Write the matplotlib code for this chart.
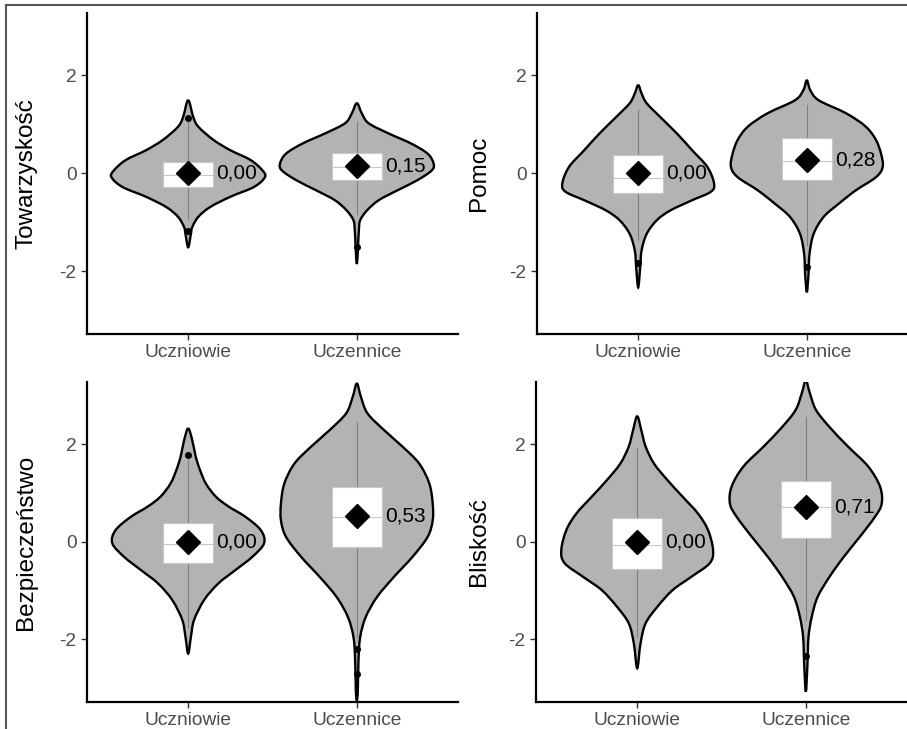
import numpy as np
import matplotlib
matplotlib.use("Agg")
import matplotlib.pyplot as plt
from matplotlib.path import Path
from matplotlib.patches import PathPatch

plt.rcParams['font.family'] = ['Liberation Sans', 'DejaVu Sans']
plt.rcParams['axes.unicode_minus'] = False

groups = ["Uczniowie", "Uczennice"]
scales = ["Towarzyskość", "Pomoc", "Bezpieczeństwo", "Bliskość"]

# mean values shown next to the diamonds
means = {
    "Towarzyskość": [0.00, 0.15],
    "Pomoc": [0.00, 0.28],
    "Bezpieczeństwo": [0.00, 0.53],
    "Bliskość": [0.00, 0.71],
}

# boxplot stats: lower whisker, q1, median, q3, upper whisker
boxes = {
    "Towarzyskość": [[-0.93, -0.28, -0.03, 0.22, 1.05], [-0.83, -0.14, 0.13, 0.42, 1.05]],
    "Pomoc": [[-1.37, -0.40, -0.09, 0.38, 1.29], [-1.47, -0.14, 0.25, 0.71, 1.39]],
    "Bezpieczeństwo": [[-1.75, -0.44, -0.05, 0.375, 1.67], [-1.95, -0.10, 0.51, 1.13, 2.46]],
    "Bliskość": [[-1.95, -0.56, -0.07, 0.48, 1.91], [-1.60, 0.08, 0.72, 1.24, 2.56]],
}

outliers = {
    "Towarzyskość": [[1.12, -1.17], [-1.51]],
    "Pomoc": [[-1.84], [-1.92]],
    "Bezpieczeństwo": [[1.77], [-2.20, -2.70]],
    "Bliskość": [[], [-2.33]],
}

# violin outline: y levels and half widths
viol_y = {
    "Towarzyskość": [
        [1.49, 1.15, 0.95, 0.68, 0.47, 0.27, 0.06, -0.08, -0.28, -0.48, -0.69, -0.89, -1.10, -1.24, -1.51],
        [1.43, 1.22, 1.02, 0.81, 0.61, 0.40, 0.20, 0.06, -0.14, -0.35, -0.55, -0.76, -0.96, -1.17, -1.85],
    ],
    "Pomoc": [
        [1.80, 1.63, 1.43, 1.15, 0.81, 0.47, 0.13, -0.21, -0.38, -0.55, -0.76, -0.96, -1.24, -1.58, -1.92, -2.33],
        [1.90, 1.70, 1.49, 1.22, 0.95, 0.68, 0.40, 0.13, -0.08, -0.35, -0.62, -0.89, -1.24, -1.65, -2.06, -2.43],
    ],
    "Bezpieczeństwo": [
        [2.32, 2.08, 1.74, 1.47, 1.19, 0.92, 0.72, 0.51, 0.24, -0.03, -0.31, -0.58, -0.85, -1.19, -1.60, -1.95, -2.29],
        [3.24, 2.97, 2.63, 2.29, 1.95, 1.60, 1.19, 0.78, 0.44, 0.10, -0.31, -0.72, -1.13, -1.54, -1.95, -2.42, -3.04, -3.25],
    ],
    "Bliskość": [
        [2.57, 2.29, 1.95, 1.60, 1.26, 0.92, 0.58, 0.24, -0.17, -0.44, -0.72, -0.99, -1.33, -1.67, -2.08, -2.59],
        [3.30, 3.04, 2.70, 2.35, 1.95, 1.54, 1.13, 0.78, 0.51, 0.10, -0.31, -0.72, -1.13, -1.54, -1.95, -2.49, -3.07],
    ],
}
viol_w = {
    "Towarzyskość": [
        [0, 0.03, 0.06, 0.15, 0.25, 0.37, 0.44, 0.455, 0.39, 0.25, 0.13, 0.06, 0.024, 0.016, 0],
        [0, 0.03, 0.07, 0.19, 0.32, 0.42, 0.455, 0.445, 0.36, 0.24, 0.13, 0.06, 0.02, 0.012, 0],
    ],
    "Pomoc": [
        [0, 0.02, 0.05, 0.13, 0.23, 0.32, 0.41, 0.45, 0.43, 0.32, 0.19, 0.11, 0.05, 0.02, 0.012, 0],
        [0, 0.02, 0.07, 0.235, 0.35, 0.41, 0.44, 0.45, 0.41, 0.29, 0.19, 0.10, 0.04, 0.016, 0.01, 0],
    ],
    "Bezpieczeństwo": [
        [0, 0.024, 0.045, 0.07, 0.105, 0.165, 0.24, 0.34, 0.43, 0.45, 0.38, 0.28, 0.18, 0.095, 0.035, 0.016, 0],
        [0, 0.024, 0.063, 0.16, 0.27, 0.37, 0.43, 0.45, 0.45, 0.42, 0.33, 0.22, 0.12, 0.053, 0.02, 0.01, 0.006, 0],
    ],
    "Bliskość": [
        [0, 0.024, 0.05, 0.10, 0.18, 0.27, 0.36, 0.42, 0.45, 0.43, 0.32, 0.21, 0.12, 0.05, 0.02, 0],
        [0, 0.024, 0.06, 0.14, 0.25, 0.37, 0.44, 0.45, 0.41, 0.32, 0.225, 0.14, 0.07, 0.035, 0.016, 0.01, 0],
    ],
}


def violin_patch(pos, y, w):
    # closed outline: right side downwards, left side back up,
    # drawn as cubic bezier segments through the read points
    y = np.asarray(y)
    w = np.asarray(w)
    pts = np.vstack([np.column_stack([pos + w, y]),
                     np.column_stack([pos - w[::-1], y[::-1]])[1:-1]])
    n = len(pts)
    verts = [pts[0]]
    codes = [Path.MOVETO]
    for i in range(n):
        p0, p1, p2, p3 = pts[i - 1], pts[i], pts[(i + 1) % n], pts[(i + 2) % n]
        verts += [p1 + (p2 - p0) / 6, p2 - (p3 - p1) / 6, p2]
        codes += [Path.CURVE4] * 3
    return PathPatch(Path(verts, codes), facecolor="#b3b3b3", edgecolor="black", lw=1.7, zorder=1)


W, H = 907, 729
fig = plt.figure(figsize=(W / 100, H / 100), dpi=100)

# page frame (top and left edge)
fig.add_artist(plt.Line2D([6 / W, 1], [1 - 5 / H, 1 - 5 / H], color="#555555", lw=1.5))
fig.add_artist(plt.Line2D([6 / W, 6 / W], [0, 1 - 5 / H], color="#555555", lw=1.5))

panels = [
    (87, 13, 371, 321),
    (537, 13, 371, 321),
    (87, 382, 371, 320),
    (536, 382, 371, 320),
]
label_x = [37, 490, 37, 490]

for k, name in enumerate(scales):
    px, py, pw, ph = panels[k]
    ax = fig.add_axes([px / W, 1 - (py + ph) / H, pw / W, ph / H])
    for i in range(2):
        pos = i + 1
        ax.add_patch(violin_patch(pos, viol_y[name][i], viol_w[name][i]))
        lo, q1, med, q3, hi = boxes[name][i]
        ax.plot([pos, pos], [lo, hi], color="#7f7f7f", lw=0.8, zorder=2)
        ax.add_patch(plt.Rectangle((pos - 0.15, q1), 0.3, q3 - q1, facecolor="white",
                                   edgecolor="#c8c8c8", lw=0.8, zorder=3))
        ax.plot([pos - 0.15, pos + 0.15], [med, med], color="#c8c8c8", lw=0.8, zorder=4)
        out = outliers[name][i]
        ax.plot([pos] * len(out), out, "o", color="black", ms=4, zorder=4)
        m = means[name][i]
        ax.plot(pos, m, "D", color="black", ms=12.5, zorder=5)
        ax.text(pos + 0.165, m, f"{m:.2f}".replace(".", ","), fontsize=15,
                va="center", ha="left", color="black", zorder=6)

    ax.set_xlim(0.4, 2.6)
    ax.set_ylim(-3.28, 3.27)
    ax.set_xticks([1, 2])
    ax.set_xticklabels(groups)
    ax.set_yticks([-2, 0, 2])
    ax.set_yticklabels(["-2", "0", "2"])
    ax.tick_params(colors="#333333", labelcolor="#4d4d4d", labelsize=13.8, length=4, width=1)
    ax.set_ylabel(name, fontsize=17.5)
    ax.yaxis.set_label_coords(-(px - label_x[k]) / pw, 0.5)
    for s in ["top", "right"]:
        ax.spines[s].set_visible(False)
    for s in ["left", "bottom"]:
        ax.spines[s].set_linewidth(1.6)
        ax.spines[s].set_color("black")
    ax.set_facecolor("white")

fig.savefig("out.png", dpi=100)
